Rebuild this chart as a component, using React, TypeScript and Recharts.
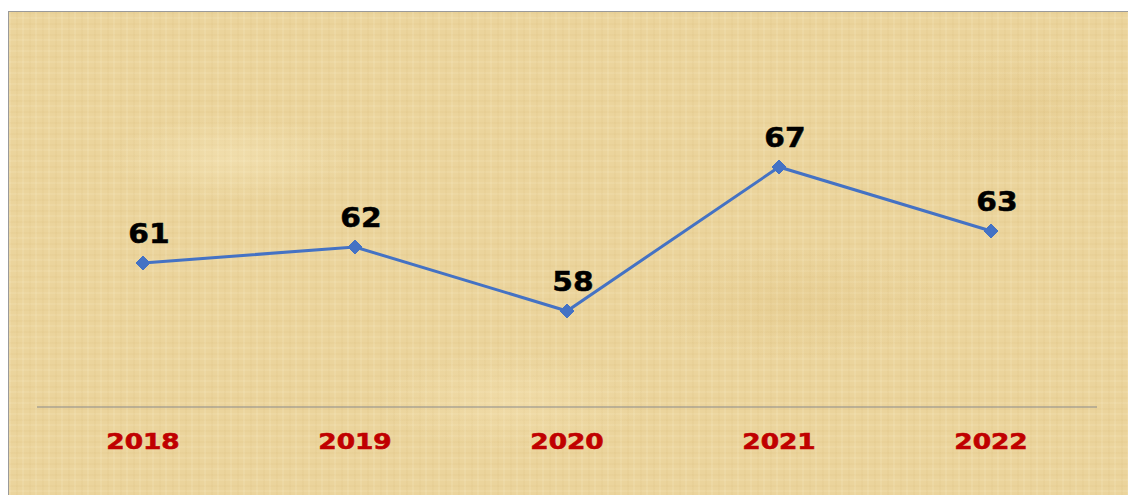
import React from "react";
import { LineChart, Line, XAxis, YAxis, LabelList } from "recharts";

const years = ["2018", "2019", "2020", "2021", "2022"];
const values = [61, 62, 58, 67, 63];

const data = years.map((y, i) => ({ year: y, value: values[i] }));

const W = 1120;
const H = 486;

const bg = [
  "radial-gradient(ellipse 180px 60px at 20% 30%, rgba(255,245,210,0.3), transparent 70%)",
  "radial-gradient(ellipse 220px 80px at 70% 60%, rgba(200,160,80,0.1), transparent 70%)",
  "radial-gradient(ellipse 200px 70px at 45% 80%, rgba(255,240,200,0.25), transparent 70%)",
  "radial-gradient(ellipse 160px 90px at 90% 20%, rgba(200,160,80,0.1), transparent 70%)",
  "repeating-linear-gradient(90deg, rgba(255,248,220,0.12) 0px, rgba(255,248,220,0.12) 2px, transparent 2px, transparent 7px, rgba(190,150,70,0.05) 7px, rgba(190,150,70,0.05) 9px, transparent 9px, transparent 13px)",
  "repeating-linear-gradient(0deg, rgba(190,150,70,0.05) 0px, rgba(190,150,70,0.05) 2px, transparent 2px, transparent 6px, rgba(255,248,220,0.1) 6px, rgba(255,248,220,0.1) 8px, transparent 8px, transparent 11px)",
].join(",");

const Tick = (props: any) => {
  const { x, y, payload } = props;
  return (
    <g transform={`translate(${x},${y})`}>
      <text
        transform="scale(1.2,1)"
        x={0}
        y={0}
        dy={34}
        textAnchor="middle"
        fill="#C00000"
        stroke="#C00000"
        strokeWidth={0.6}
        fontFamily="'DejaVu Sans', Verdana, sans-serif"
        fontWeight="bold"
        fontSize={22}
      >
        {payload.value}
      </text>
    </g>
  );
};

const ValueLabel = (props: any) => {
  const { x, y, value } = props;
  return (
    <g transform={`translate(${x + 6},${y - 20})`}>
      <text
        transform="scale(1.1,1)"
        x={0}
        y={0}
        textAnchor="middle"
        fill="#000000"
        stroke="#000000"
        strokeWidth={0.5}
        fontFamily="'DejaVu Sans', Verdana, sans-serif"
        fontWeight="bold"
        fontSize={27}
      >
        {value}
      </text>
    </g>
  );
};

const Diamond = (props: any) => {
  const { cx, cy } = props;
  const r = 7;
  return (
    <path
      d={`M${cx},${cy - r} L${cx + r},${cy} L${cx},${cy + r} L${cx - r},${cy} Z`}
      fill="#4472C4"
      stroke="#4472C4"
    />
  );
};

export default function App() {
  return (
    <>
      <style>{"html{overflow:hidden;} body{margin-right:0;}"}</style>
      <div
        style={{
          marginTop: 3,
          width: W,
          height: H,
          borderLeft: "1px solid #9a9a9a",
          borderTop: "1px solid #9a9a9a",
          backgroundColor: "#ebd49c",
          backgroundImage: bg,
        }}
      >
        <LineChart
          width={W}
          height={H}
          data={data}
          margin={{ top: 75, right: 32, bottom: 2, left: 28 }}
        >
          <XAxis
            dataKey="year"
            scale="band"
            height={89}
            axisLine={{ stroke: "#8a8a8a", strokeWidth: 1 }}
            tickLine={false}
            tick={<Tick />}
            interval={0}
          />
          <YAxis hide domain={[52, 72]} />
          <Line
            type="linear"
            dataKey="value"
            stroke="#4472C4"
            strokeWidth={3}
            dot={<Diamond />}
            activeDot={false}
            isAnimationActive={false}
          >
            <LabelList dataKey="value" content={<ValueLabel />} />
          </Line>
        </LineChart>
      </div>
    </>
  );
}
